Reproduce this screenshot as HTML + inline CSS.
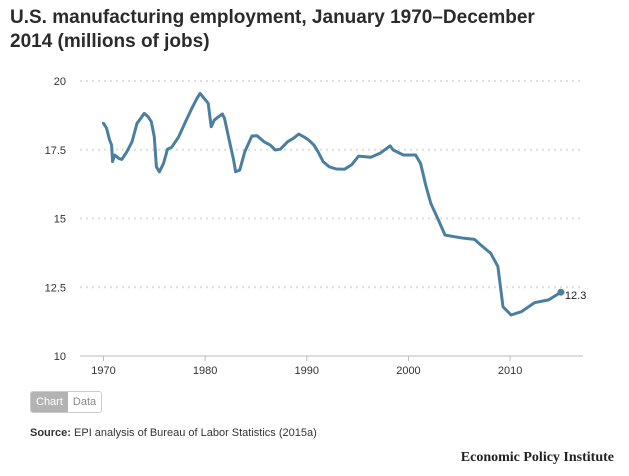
<!DOCTYPE html>
<html><head><meta charset="utf-8"><style>
body{margin:0;width:629px;height:476px;background:#fff;font-family:"Liberation Sans",sans-serif;color:#333;overflow:hidden;position:relative}
#title{position:absolute;left:10px;top:6px;font-size:19px;font-weight:bold;line-height:24px;color:#2b2b2b;width:570px}
svg{position:absolute;left:0;top:0}
#toggle{position:absolute;left:30px;top:391px;height:20px;border:1px solid #ccc;border-radius:3px;display:flex;font-size:11px;overflow:hidden}
#toggle div{padding:0 5px;line-height:20px}
#src{position:absolute;left:30px;top:427px;font-size:11px;color:#333}
#logo{position:absolute;right:15px;top:450px;font-family:"Liberation Serif",serif;font-weight:bold;font-size:14px;color:#222}
</style></head><body>
<div id="title">U.S. manufacturing employment, January 1970–December 2014 (millions of jobs)</div>
<svg id="chart" width="629" height="476"></svg>
<div id="toggle"><div style="background:#b3b3b3;color:#fff">Chart</div><div style="color:#888">Data</div></div>
<div id="src"><b>Source:</b> EPI analysis of Bureau of Labor Statistics (2015a)</div>
<div id="logo">Economic Policy Institute</div>
<script>
const years=[1970.0,1970.3,1970.6,1970.8,1970.9,1971.1,1971.5,1971.8,1972.3,1972.8,1973.3,1973.6,1974.0,1974.4,1974.7,1975.0,1975.2,1975.5,1975.9,1976.3,1976.7,1977.4,1978.0,1978.7,1979.2,1979.5,1979.9,1980.3,1980.6,1980.9,1981.3,1981.7,1981.9,1982.3,1982.8,1983.0,1983.4,1983.9,1984.6,1985.1,1985.8,1986.4,1986.9,1987.4,1988.1,1988.7,1989.2,1989.7,1990.2,1990.7,1991.1,1991.6,1992.2,1992.9,1993.7,1994.4,1995.1,1996.3,1997.2,1998.2,1998.5,1999.5,2000.7,2001.2,2001.7,2002.2,2002.8,2003.6,2004.5,2005.5,2006.5,2007.1,2008.1,2008.8,2009.3,2010.1,2011.1,2012.4,2013.8,2015.0];
const jobs=[18.46,18.29,17.85,17.67,17.07,17.31,17.19,17.15,17.43,17.79,18.46,18.61,18.82,18.70,18.52,17.97,16.88,16.70,17.0,17.52,17.59,17.97,18.46,19.01,19.37,19.55,19.37,19.19,18.34,18.58,18.70,18.80,18.64,17.97,17.13,16.70,16.76,17.43,18.0,18.01,17.79,17.67,17.49,17.52,17.79,17.92,18.07,17.97,17.85,17.67,17.43,17.07,16.88,16.8,16.79,16.95,17.27,17.23,17.37,17.64,17.49,17.31,17.31,17.0,16.22,15.55,15.07,14.4,14.34,14.28,14.24,14.04,13.73,13.25,11.79,11.49,11.61,11.94,12.04,12.32];
const yTicks=[10,12.5,15,17.5,20];
const yTickLabels=["10","12.5","15","17.5","20"];
const xTicks=[1970,1980,1990,2000,2010];
const lastLabel="12.3";
const NS="http://www.w3.org/2000/svg";
const svg=document.getElementById('chart');
const xs=y=>103.5+(y-1970)*10.165;
const ys=v=>356-(v-10)*27.5;
function mk(t,a){const e=document.createElementNS(NS,t);for(const k in a)e.setAttribute(k,a[k]);svg.appendChild(e);return e;}
yTicks.forEach((t,i)=>{
  if(i>0){const g=mk('line',{x1:80,x2:583,y1:ys(t),y2:ys(t),stroke:'#ddd','stroke-width':2,'stroke-dasharray':'2,4'});
  
  }
  const l=mk('text',{x:66,y:ys(t)+4,'text-anchor':'end','font-size':11,fill:'#333','font-family':'Liberation Sans'});
  l.textContent=yTickLabels[i];
  
  
});
const ax=mk('line',{x1:80,x2:583,y1:356,y2:356,stroke:'#bbb','stroke-width':1});


xTicks.forEach(t=>{
  const tk=mk('line',{x1:xs(t),x2:xs(t),y1:356,y2:361,stroke:'#bbb'});
  
  
  const l=mk('text',{x:xs(t),y:374,'text-anchor':'middle','font-size':11,fill:'#333','font-family':'Liberation Sans'});
  l.textContent=t;
  
  
});
const d=years.map((y,i)=>(i?'L':'M')+xs(y).toFixed(1)+','+ys(jobs[i]).toFixed(1)).join('');
const p=mk('path',{d:d,fill:'none',stroke:'#4a7fa0','stroke-width':3,'stroke-linejoin':'round','stroke-linecap':'round'});


const n=years.length-1;
const c=mk('circle',{cx:xs(years[n]),cy:ys(jobs[n]),r:3.5,fill:'#4a7fa0'});


const lt=mk('text',{x:xs(years[n])+4,y:ys(jobs[n])+7,'font-size':11,fill:'#222','font-family':'Liberation Sans'});
lt.textContent=lastLabel;


</script>
</body></html>
